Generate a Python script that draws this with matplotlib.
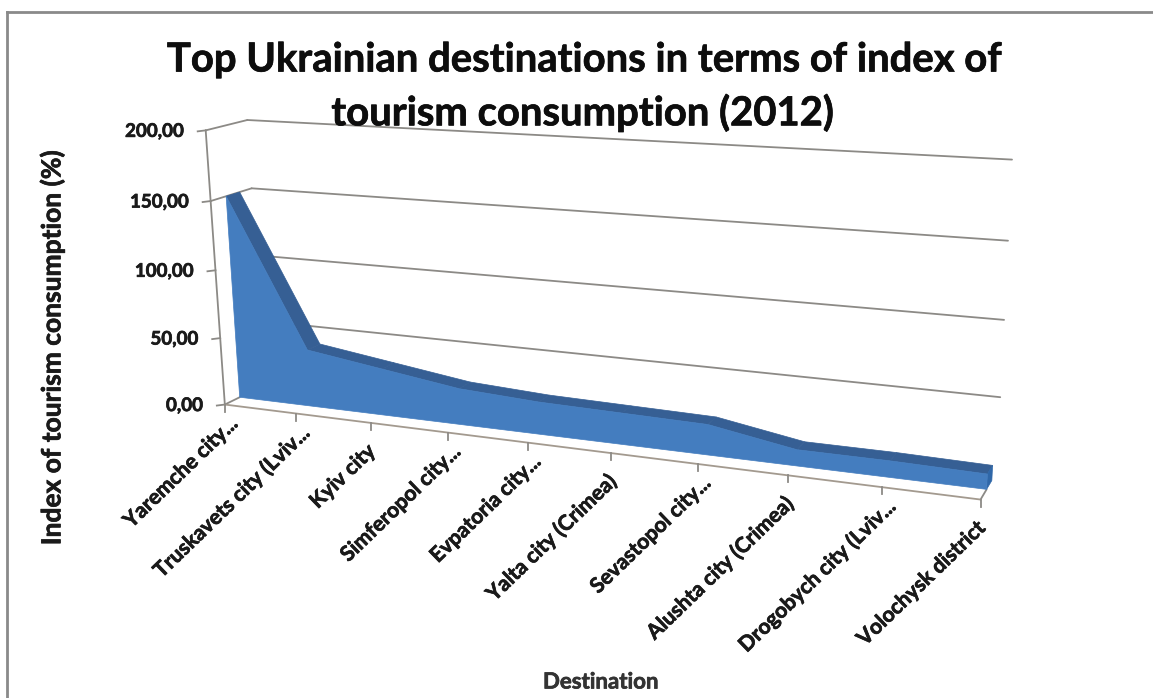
import numpy as np
import matplotlib
matplotlib.use("Agg")
import matplotlib.pyplot as plt
import matplotlib.patheffects as pe
from matplotlib.patches import Polygon

plt.rcParams['font.family'] = ['Lato', 'DejaVu Sans']

destinations = ["Yaremche city...", "Truskavets city (Lviv...", "Kyiv city", "Simferopol city...",
                "Evpatoria city...", "Yalta city (Crimea)", "Sevastopol city...", "Alushta city (Crimea)",
                "Drogobych city (Lviv...", "Volochysk district"]
consumption = [150, 42, 34, 26, 23, 22, 21, 11, 11, 10]
y_ticks = [0, 50, 100, 150, 200]
y_tick_labels = ["0,00", "50,00", "100,00", "150,00", "200,00"]

W, H = 1153, 698
fig = plt.figure(figsize=(W / 100, H / 100), dpi=100)
ax = fig.add_axes([0, 0, 1, 1])
ax.set_xlim(0, W)
ax.set_ylim(H, 0)
ax.axis("off")

# perspective camera of the 3D box: (category, depth, value) -> canvas
box = [(0, 0, 0, 225, 402), (0, 0, 200, 206, 130), (0, 1, 200, 247, 120), (0, 1, 0, 264, 388),
       (9, 1, 200, 1012, 160), (9, 1, 0, 997, 469), (9, 0, 0, 980, 503)]
rows, rhs = [], []
for cx, cd, cv, px, py in box:
    rows.append([cx, cd, cv, 1, 0, 0, 0, 0, -px * cx, -px * cd, -px * cv])
    rhs.append(px)
    rows.append([0, 0, 0, 0, cx, cd, cv, 1, -py * cx, -py * cd, -py * cv])
    rhs.append(py)
cam = np.append(np.linalg.lstsq(np.array(rows, float), np.array(rhs, float), rcond=None)[0], 1).reshape(3, 4)


def project(x, d, v):
    p = cam @ np.array([x, d, v, 1.0])
    return p[0] / p[2], p[1] / p[2]


def line3d(a, b, color="#8c8a86", lw=1.3, z=1):
    pa, pb = project(*a), project(*b)
    ax.plot([pa[0], pb[0]], [pa[1], pb[1]], color=color, lw=lw, zorder=z, solid_capstyle="round")


def label(x, y, s, size, color="#1a1a1a", z=6, **kw):
    # thin outline to give the bold face more weight
    t = ax.text(x, y, s, fontsize=size, fontweight="bold", color=color, zorder=z, **kw)
    t.set_path_effects([pe.withStroke(linewidth=0.5, foreground=color)])
    return t


# chart frame, open on the right and at the bottom
ax.plot([7, 7], [H, 12], color="#8a8a8a", lw=2, zorder=1)
ax.plot([7, W], [12, 12], color="#8a8a8a", lw=2, zorder=1)

n = len(consumption) - 1
for v in y_ticks[1:]:
    line3d((0, 1, v), (n, 1, v))
for v in y_ticks[3:]:
    line3d((0, 0, v), (0, 1, v))

# area body between two depth planes
d_front, d_back = 0.37, 0.7
for i in range(n):
    quad = [project(i, d_front, consumption[i]), project(i + 1, d_front, consumption[i + 1]),
            project(i + 1, d_back, consumption[i + 1]), project(i, d_back, consumption[i])]
    ax.add_patch(Polygon(quad, closed=True, fc="#365f94", ec="#365f94", lw=0.5, zorder=2))
cap = [project(n, d_front, 0), project(n, d_front, consumption[n]),
       project(n, d_back, consumption[n]), project(n, d_back, 0)]
ax.add_patch(Polygon(cap, closed=True, fc="#2f67a8", ec="#2f67a8", lw=0.5, zorder=2))
front = [project(i, d_front, consumption[i]) for i in range(n + 1)]
front += [project(n, d_front, 0), project(0, d_front, 0)]
ax.add_patch(Polygon(front, closed=True, fc="#447dbf", ec="#447dbf", lw=0.5, zorder=3))

# axes lines and ticks
line3d((0, 0, 0), (0, 0, 200), z=4)
line3d((0, 0, 0), (n, 0, 0), color="#a39a8f", z=4)
line3d((n, 0, 0), (n, d_front, 0), z=1)
line3d((0, 0, 0), (0, d_front, 0), z=1)
for v, tick_label in zip(y_ticks, y_tick_labels):
    px, py = project(0, 0, v)
    ax.plot([px - 8, px], [py + 1, py], color="#8c8a86", lw=1.3, zorder=4)
    label(px - 22, py + 1, tick_label, 13.5, ha="right", va="center")
for i, name in enumerate(destinations):
    px, py = project(i, 0, 0)
    ax.plot([px, px], [py, py + 7], color="#8c8a86", lw=1.3, zorder=4)
    # truncated names sit a little further up the slant
    dx, dy = (3, 9) if name.endswith("...") else (-5, 18)
    label(px + dx, py + dy, name, 15.2, ha="right", va="top", rotation=44, rotation_mode="anchor")

label(585, 60, "Top Ukrainian destinations in terms of index of", 28.8, color="#0d0d0d", ha="center", va="center")
label(583, 113, "tourism consumption (2012)", 28.8, color="#0d0d0d", ha="center", va="center")
label(52, 348, "Index of tourism consumption (%)", 19, ha="center", va="center", rotation=90)
label(601, 682, "Destination", 16, color="#333333", ha="center", va="center")

fig.savefig("out.png", dpi=100)
